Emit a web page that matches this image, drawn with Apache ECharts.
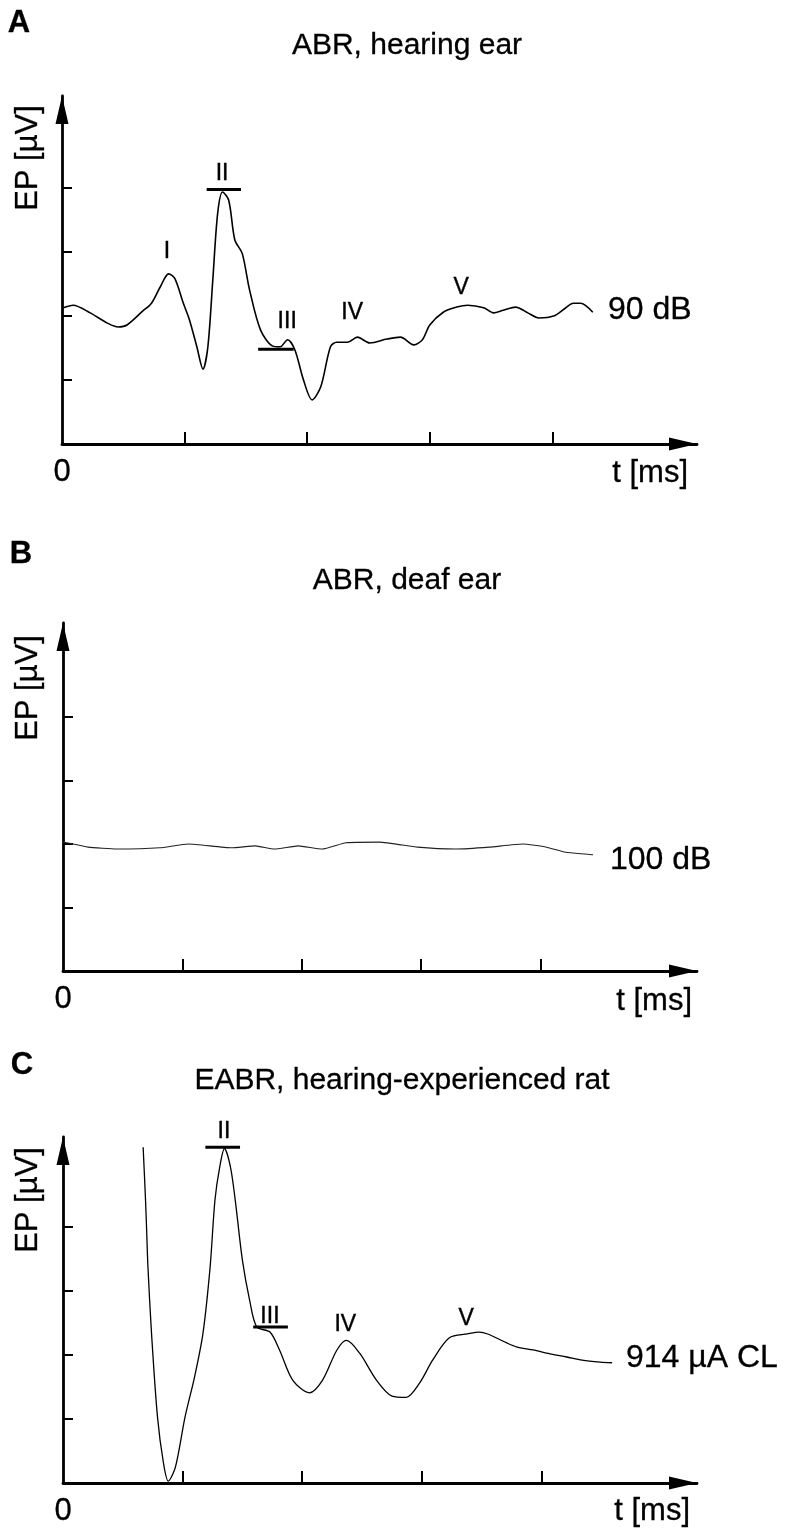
<!DOCTYPE html>
<html>
<head>
<meta charset="utf-8">
<script src="https://cdn.jsdelivr.net/npm/echarts@6/dist/echarts.min.js"></script>
<style>
html,body{margin:0;padding:0;background:#fff;}
#chart{width:786px;height:1532px;}
</style>
</head>
<body>
<div id="chart"></div>
<script>
// ---- Data (time in tick units of ms, EP in tick units of µV) ----
const panelTitles = ['ABR, hearing ear', 'ABR, deaf ear', 'EABR, hearing-experienced rat'];
const panelLetters = ['A', 'B', 'C'];
const traceNames = ['90 dB', '100 dB', '914 µA CL'];

const timeA = [0.01,0.09,0.23,0.37,0.46,0.53,0.66,0.73,0.80,0.87,0.92,0.99,1.04,1.10,1.15,1.19,1.23,1.27,1.31,1.36,1.41,1.47,1.53,1.62,1.72,1.78,1.84,1.90,1.97,2.04,2.11,2.19,2.24,2.33,2.41,2.51,2.65,2.76,2.87,2.94,3.00,3.11,3.22,3.31,3.44,3.52,3.60,3.70,3.80,3.89,4.01,4.11,4.17,4.23,4.33];
const epA   = [2.13,2.17,2.05,1.89,1.83,1.86,2.08,2.20,2.45,2.66,2.59,2.20,1.94,1.52,1.17,1.52,2.56,3.61,3.94,3.81,3.19,2.98,2.41,1.78,1.53,1.52,1.63,1.47,1.00,0.69,0.89,1.52,1.59,1.59,1.67,1.58,1.64,1.67,1.55,1.63,1.86,2.06,2.14,2.17,2.13,2.05,2.09,2.14,2.05,1.97,2.00,2.13,2.20,2.20,2.06];

const timeB = [0.00,0.03,0.21,0.45,0.81,1.05,1.41,1.61,1.77,1.97,2.17,2.37,2.65,2.97,3.29,3.57,3.85,4.05,4.21,4.44];
const epB   = [2.03,2.02,1.95,1.92,1.94,2.00,1.94,1.97,1.92,1.97,1.92,2.02,2.03,1.95,1.92,1.95,2.00,1.95,1.87,1.83];

const timeC = [0.67,0.69,0.70,0.71,0.74,0.79,0.84,0.88,0.94,1.02,1.10,1.17,1.23,1.27,1.31,1.35,1.40,1.44,1.50,1.56,1.62,1.73,1.81,1.92,2.06,2.17,2.29,2.37,2.48,2.62,2.75,2.87,2.98,3.09,3.23,3.38,3.48,3.55,3.71,3.79,3.93,4.07,4.21,4.34,4.49,4.59];
const epC   = [5.25,4.42,3.91,3.38,2.34,1.03,0.31,0.03,0.25,1.03,1.66,2.34,3.38,4.42,4.94,5.23,4.94,4.42,3.48,2.86,2.44,2.36,2.08,1.61,1.41,1.61,2.08,2.23,2.03,1.61,1.36,1.34,1.56,1.92,2.27,2.33,2.36,2.33,2.19,2.13,2.08,2.02,1.97,1.92,1.89,1.88];

// peak latency bars: [tStart, tEnd, level]
const barsA = [[1.18,1.46,3.98],[1.60,1.89,1.48]];
const barsC = [[1.19,1.48,5.25],[1.59,1.88,2.44]];

// wave labels: [name, t, ep]
const wavesA = [['I',0.857,3.0],['II',1.306,4.22],['III',1.837,1.92],['IV',2.367,2.06],['V',3.257,2.45]];
const wavesC = [['II',1.345,5.50],['III',1.73,2.60],['IV',2.36,2.48],['V',3.37,2.57]];

const tickValues = [1,2,3,4];

// ---- Layout ----
const grids = [
  {left:62, top:96, width:635, height:348},
  {left:63, top:623, width:634, height:348},
  {left:63, top:1137, width:634, height:346}
];
const xMax = [5.18, 5.31, 5.30];
const yMax = [5.44, 5.48, 5.41];

const FONT = 'Liberation Sans, Arial, Helvetica, sans-serif';

function zip(a, b){ return a.map((v,i)=>[v,b[i]]); }

const arrowLine = {show:true, lineStyle:{color:'#000', width:2.8}, symbol:['none','triangle'], symbolSize:[13,28], symbolOffset:[0,-14]};

const xAxes = grids.map((g,i)=>({
  gridIndex:i, type:'value', min:0, max:xMax[i],
  axisLine:arrowLine,
  axisTick:{show:true, inside:true, length:12, customValues:tickValues, lineStyle:{color:'#000', width:2}},
  axisLabel:{show:true, customValues:[0], fontSize:31, color:'#000', fontFamily:FONT, margin:13,
    textBorderColor:'#000', textBorderWidth:0.3},
  splitLine:{show:false}
}));
const yAxes = grids.map((g,i)=>({
  gridIndex:i, type:'value', min:0, max:yMax[i],
  axisLine:arrowLine,
  axisTick:{show:true, inside:true, length:10, customValues:tickValues, lineStyle:{color:'#000', width:2}},
  axisLabel:{show:false},
  splitLine:{show:false}
}));

const series = [];
const traces = [zip(timeA,epA), zip(timeB,epB), zip(timeC,epC)];
const traceWidths = [1.6, 1.1, 1.3];
const traceColors = ['#000','#222','#000'];
const traceSmooth = [0.3, 0.15, 0.3];
traces.forEach((d,i)=>{
  series.push({type:'line', xAxisIndex:i, yAxisIndex:i, data:d, showSymbol:false, smooth:traceSmooth[i],
    clip:false, lineStyle:{color:traceColors[i], width:traceWidths[i]}, silent:true, z:3});
});
[[barsA,0],[barsC,2]].forEach(([bars,gi])=>{
  bars.forEach(b=>{
    series.push({type:'line', xAxisIndex:gi, yAxisIndex:gi, data:[[b[0],b[2]],[b[1],b[2]]],
      showSymbol:false, clip:false, lineStyle:{color:'#000', width:3}, silent:true, z:4});
  });
});
[[wavesA,0],[wavesC,2]].forEach(([w,gi])=>{
  series.push({type:'scatter', xAxisIndex:gi, yAxisIndex:gi, symbolSize:0, clip:false, silent:true,
    data:w.map(p=>({name:p[0], value:[p[1],p[2]]})),
    label:{show:true, position:'inside', formatter:'{b}', fontSize:23, color:'#000', fontFamily:FONT,
      textBorderColor:'#000', textBorderWidth:0.4, opacity:1}});
});

// ---- text annotations ----
const graphic = [];
const letterPos = [[19,23],[21,554],[22,1065]];
const titlePos = [[407,46],[407,581],[402,1081]];
const epPos = [[28,158],[28,688],[28,1200]];
const tmsPos = [[688,473],[692,1001],[690,1511]];
const namePos = [[608,310],[610,860],[626,1358]];
function txt(x, y, text, font, align, rot){
  const g = {type:'text', x:x, y:y, style:{text:text, font:font, fill:'#000', align:align, verticalAlign:'middle',
    stroke:'#000', lineWidth:0.3}};
  if (rot) g.rotation = rot;
  return g;
}
for (let i=0;i<3;i++){
  graphic.push(txt(letterPos[i][0], letterPos[i][1], panelLetters[i], 'bold 31px '+FONT, 'center'));
  graphic.push(txt(titlePos[i][0], titlePos[i][1], panelTitles[i], '30px '+FONT, 'center'));
  graphic.push(txt(epPos[i][0], epPos[i][1], 'EP [µV]', '31px '+FONT, 'center', Math.PI/2));
  graphic.push(txt(tmsPos[i][0], tmsPos[i][1], 't [ms]', '31px '+FONT, 'right'));
  graphic.push(txt(namePos[i][0], namePos[i][1], traceNames[i], '32px '+FONT, 'left'));
}

const chart = echarts.init(document.getElementById('chart'), null, {renderer:'canvas'});
chart.setOption({
  backgroundColor:'#fff',
  animation:false,
  grid:grids,
  xAxis:xAxes,
  yAxis:yAxes,
  series:series,
  graphic:graphic
});
</script>
</body>
</html>
